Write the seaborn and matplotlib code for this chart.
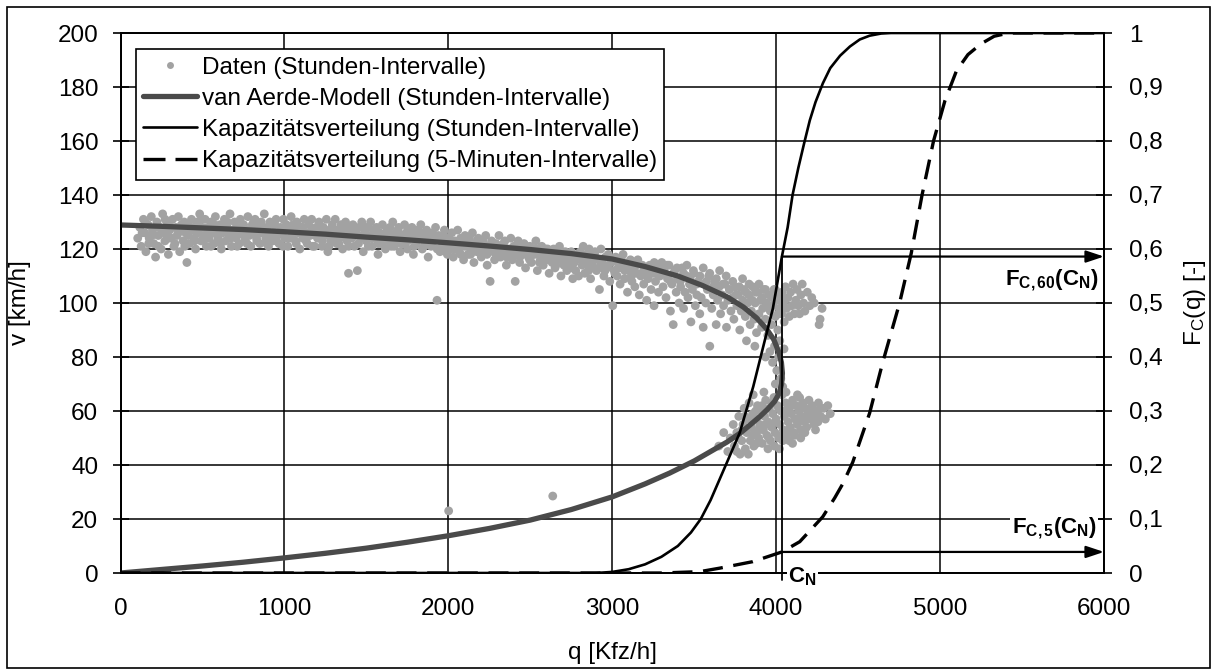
import matplotlib
matplotlib.use("Agg")
import matplotlib.pyplot as plt
from matplotlib.lines import Line2D
from matplotlib.patches import Rectangle
import pandas as pd
import seaborn as sns

# ---------------------------------------------------------------------------
# Hourly measurements: traffic flow q [Kfz/h] and speed v [km/h]
# ---------------------------------------------------------------------------
free_flow = [
    (105, 124), (118, 128), (126, 121), (140, 131), (148, 126), (155, 119), (168, 129), (175, 124),
    (188, 132), (195, 127), (203, 122), (214, 117), (222, 130), (230, 125), (241, 128), (248, 120),
    (257, 133), (263, 126), (271, 123), (285, 130), (292, 118), (300, 127), (311, 124), (318, 131),
    (326, 121), (338, 128), (345, 125), (353, 132), (361, 119), (370, 127), (382, 123), (389, 130),
    (397, 126), (405, 115), (412, 129), (420, 122), (433, 131), (440, 127), (449, 124), (458, 120),
    (466, 130), (474, 126), (483, 133), (491, 123), (499, 128),
    (508, 125), (516, 131), (524, 121), (533, 128), (541, 124), (552, 130), (560, 126), (571, 122),
    (579, 132), (588, 127), (596, 124), (607, 129), (615, 120), (623, 126), (634, 131), (642, 123),
    (651, 128), (660, 125), (668, 133), (677, 121), (688, 127), (696, 130), (705, 124), (713, 128),
    (724, 122), (731, 131), (740, 126), (751, 129), (759, 123), (768, 127), (777, 132), (786, 125),
    (795, 121), (804, 129), (812, 126), (821, 131), (830, 124), (842, 128), (850, 122), (859, 130),
    (868, 126), (877, 133), (886, 124), (894, 128), (903, 121), (912, 130), (921, 126), (930, 123),
    (941, 129), (949, 131), (958, 125), (967, 122), (976, 128), (985, 126), (994, 131), (1003, 124),
    (1012, 129), (1021, 121), (1030, 127), (1041, 132), (1049, 125), (1058, 128), (1067, 123),
    (1076, 130), (1085, 126), (1094, 120), (1103, 128), (1112, 124), (1121, 131), (1130, 126),
    (1139, 122), (1148, 129), (1157, 125), (1166, 131), (1175, 127), (1184, 121), (1193, 128),
    (1202, 124), (1211, 130), (1220, 126), (1229, 121), (1238, 128), (1247, 125), (1256, 131),
    (1265, 119), (1274, 127), (1283, 123), (1292, 129), (1301, 125), (1310, 131), (1319, 122),
    (1328, 127), (1337, 124), (1346, 129), (1355, 120), (1364, 126), (1373, 130), (1382, 123),
    (1391, 111), (1400, 127), (1409, 125), (1418, 129), (1427, 121), (1436, 126), (1445, 112),
    (1454, 128), (1463, 124), (1472, 130), (1481, 119), (1490, 126), (1499, 123), (1508, 128),
    (1517, 125), (1526, 130), (1535, 121), (1544, 127), (1553, 124), (1562, 128), (1571, 118),
    (1580, 126), (1589, 122), (1598, 129), (1607, 125), (1616, 120), (1625, 127), (1634, 123),
    (1643, 128), (1652, 125), (1661, 130), (1670, 121), (1679, 126), (1688, 123), (1697, 128),
    (1706, 119), (1715, 125), (1724, 122), (1733, 129), (1742, 126), (1751, 120), (1760, 127),
    (1769, 124), (1778, 128), (1787, 118), (1796, 125), (1805, 122), (1814, 127), (1823, 124),
    (1832, 129), (1841, 120), (1850, 126), (1859, 123), (1868, 127), (1877, 117), (1886, 124),
    (1895, 121), (1904, 126), (1913, 123), (1922, 128), (1931, 101), (1940, 125), (1949, 119),
    (1958, 124), (1967, 121), (1976, 127), (1985, 122), (1994, 118),
    (2003, 124), (2012, 120), (2021, 126), (2030, 117), (2039, 123), (2048, 121), (2057, 127),
    (2066, 119), (2075, 124), (2084, 122), (2093, 116), (2102, 125), (2111, 121), (2120, 118),
    (2129, 124), (2138, 120), (2147, 126), (2156, 115), (2165, 122), (2174, 119), (2183, 124),
    (2192, 121), (2201, 117), (2210, 123), (2219, 120), (2228, 125), (2237, 114), (2246, 121),
    (2255, 108), (2264, 123), (2273, 119), (2282, 116), (2291, 122), (2300, 120), (2309, 125),
    (2318, 117), (2327, 121), (2336, 119), (2345, 123), (2354, 114), (2363, 120), (2372, 118),
    (2381, 124), (2390, 116), (2399, 121), (2408, 108), (2417, 119), (2426, 123), (2435, 115),
    (2444, 120), (2453, 118), (2462, 122), (2471, 113), (2480, 119), (2489, 117), (2498, 121),
    (2507, 115), (2516, 120), (2525, 118), (2534, 123), (2543, 112), (2552, 119), (2561, 116),
    (2570, 121), (2579, 114), (2588, 118), (2597, 116), (2606, 120), (2615, 111), (2624, 117),
    (2633, 115), (2642, 120), (2651, 113), (2660, 118), (2669, 116), (2678, 121), (2687, 110),
    (2696, 117), (2705, 114), (2714, 119), (2723, 112), (2732, 116), (2741, 114), (2750, 119),
    (2759, 109), (2768, 115), (2777, 112), (2786, 118), (2795, 110),
    (2805, 119), (2814, 116), (2823, 121), (2832, 111), (2841, 118), (2850, 114), (2859, 120),
    (2868, 109), (2877, 117), (2886, 113), (2895, 119), (2904, 112), (2913, 116), (2922, 105),
    (2931, 120), (2940, 114), (2949, 110), (2958, 117), (2967, 113), (2976, 118), (2985, 108),
    (2994, 115), (3003, 99), (3012, 112), (3021, 117), (3030, 110), (3039, 115), (3048, 107),
    (3057, 113), (3066, 118), (3075, 109), (3084, 114), (3093, 104), (3102, 112), (3111, 116),
    (3120, 108), (3129, 113), (3138, 106), (3147, 111), (3156, 116), (3165, 103), (3174, 110),
    (3183, 114), (3192, 107), (3201, 112), (3210, 101), (3219, 109), (3228, 114), (3237, 105),
    (3246, 111), (3255, 99), (3264, 108), (3273, 113), (3282, 104), (3291, 110),
    (3302, 115), (3310, 106), (3319, 111), (3328, 102), (3337, 109), (3346, 114), (3355, 97),
    (3364, 107), (3372, 92), (3381, 112), (3390, 104), (3399, 109), (3408, 100), (3417, 106),
    (3426, 113), (3435, 98), (3444, 104), (3453, 110), (3462, 102), (3471, 107), (3480, 93),
    (3489, 105), (3498, 111), (3507, 99), (3516, 103), (3525, 108), (3534, 96), (3543, 102),
    (3555, 91), (3562, 107), (3571, 100), (3580, 105), (3589, 110), (3595, 84), (3607, 98),
    (3616, 103), (3625, 108), (3634, 92), (3643, 101), (3652, 106), (3661, 96), (3670, 103),
    (3679, 99), (3688, 107), (3697, 91), (3706, 101), (3715, 105), (3724, 97), (3733, 102),
    (3742, 94), (3751, 106), (3760, 99), (3769, 103), (3778, 90), (3787, 97), (3796, 101),
    (3805, 105), (3812, 95), (3819, 86), (3826, 100), (3834, 103), (3841, 92), (3849, 97),
    (3857, 106), (3865, 94), (3872, 100), (3880, 89), (3888, 104), (3895, 96), (3903, 101),
    (3911, 91), (3918, 98), (3926, 105), (3934, 94), (3941, 100), (3949, 88), (3957, 103),
    (3964, 97), (3972, 92), (3980, 99), (3987, 105), (3995, 95), (4003, 101), (4010, 90),
    (4018, 98), (4026, 103), (4033, 96), (4041, 100), (4049, 93), (4057, 106), (4064, 98),
    (4072, 102), (4080, 95), (4088, 104), (4095, 99), (4103, 107), (4111, 96), (4119, 101),
    (4127, 105), (4135, 99), (4143, 96), (4151, 103), (4159, 107), (4167, 100), (4175, 97),
    (4190, 104), (4205, 99), (4217, 102), (4232, 100), (4262, 92), (4268, 94), (4280, 98),
    (3962, 82), (3978, 78), (3990, 84), (4004, 75), (4015, 80), (4028, 72), (4040, 69),
    (4048, 83), (3995, 70), (4022, 86), (3870, 84), (3935, 80),
]

# further hours inside the free-flow band
free_flow_more = [
    (132, 126), (152, 130), (172, 122), (192, 125), (212, 128), (232, 121), (252, 127), (272, 131),
    (292, 124), (312, 128), (332, 122), (352, 126), (372, 129), (392, 121), (412, 125), (432, 128),
    (452, 123), (472, 127), (492, 131), (512, 124), (532, 127), (552, 121), (572, 129), (592, 125),
    (612, 122), (632, 127), (652, 130), (672, 124), (692, 126), (712, 121), (732, 128), (752, 125),
    (772, 122), (792, 127), (812, 130), (832, 123), (852, 126), (872, 128), (892, 122), (912, 125),
    (932, 129), (952, 123), (972, 126), (992, 121), (1012, 127), (1032, 124), (1052, 129),
    (1072, 122), (1092, 126), (1112, 128), (1132, 123), (1152, 126), (1172, 121), (1192, 125),
    (1212, 128), (1232, 123), (1252, 126), (1272, 121), (1292, 124), (1312, 127), (1332, 122),
    (1352, 125), (1372, 128), (1392, 121), (1412, 124), (1432, 127), (1452, 122), (1472, 125),
    (1492, 128), (1512, 121), (1532, 124), (1552, 127), (1572, 122), (1592, 125), (1612, 123),
    (1632, 126), (1652, 121), (1672, 124), (1692, 127), (1712, 122), (1732, 125), (1752, 123),
    (1772, 126), (1792, 121), (1812, 124), (1832, 126), (1852, 121), (1872, 124), (1892, 122),
    (1912, 125), (1932, 120), (1952, 123), (1972, 125), (1992, 120), (2016, 123), (2036, 120),
    (2056, 122), (2076, 118), (2096, 121), (2116, 123), (2136, 118), (2156, 121), (2176, 123),
    (2196, 119), (2216, 122), (2236, 118), (2256, 120), (2276, 122), (2296, 117), (2316, 120),
    (2336, 122), (2356, 117), (2376, 120), (2396, 118), (2416, 121), (2436, 117), (2456, 119),
    (2476, 121), (2496, 116), (2516, 118), (2536, 120), (2556, 115), (2576, 118), (2596, 120),
    (2616, 116), (2636, 118), (2656, 114), (2676, 117), (2696, 119), (2716, 115), (2736, 117),
    (2756, 113), (2776, 116), (2796, 118), (2816, 114), (2836, 116), (2856, 112), (2876, 115),
    (2896, 117), (2916, 113), (2936, 115), (2956, 112), (2976, 114), (2996, 116), (3016, 111),
    (3036, 113), (3056, 116), (3076, 112), (3096, 114), (3116, 110), (3136, 113), (3156, 115),
    (3176, 111), (3196, 113), (3216, 110), (3236, 112), (3256, 115), (3276, 111), (3296, 113),
    (3315, 112), (3335, 114), (3355, 108), (3375, 111), (3395, 113), (3415, 108), (3435, 111),
    (3455, 114), (3475, 109), (3495, 112), (3515, 107), (3535, 110), (3555, 113), (3575, 108),
    (3595, 111), (3615, 106), (3635, 109), (3655, 112), (3675, 107), (3695, 110), (3715, 105),
    (3735, 108), (3755, 103), (3775, 106), (3795, 109), (3815, 104), (3835, 107), (3855, 101),
    (3875, 104), (3895, 107), (3915, 102), (3935, 105), (3955, 99), (3975, 102), (3995, 105),
    (4015, 96), (4035, 104), (4055, 101),
]

congested = [
    (3650, 47), (3680, 52), (3705, 45), (3720, 50), (3738, 55), (3745, 47), (3760, 52), (3772, 58),
    (3780, 44), (3790, 49), (3798, 55), (3805, 61), (3812, 46), (3820, 52), (3828, 57), (3835, 63),
    (3842, 49), (3850, 54), (3857, 59), (3864, 47), (3872, 52), (3879, 57), (3886, 62), (3893, 50),
    (3900, 55), (3908, 60), (3915, 48), (3922, 53), (3929, 58), (3936, 64), (3943, 51), (3950, 56),
    (3958, 61), (3965, 49), (3972, 54), (3979, 59), (3986, 65), (3993, 52), (4000, 57), (4008, 62),
    (4015, 50), (4022, 55), (4029, 60), (4036, 66), (4043, 53), (4050, 58), (4058, 63), (4065, 51),
    (4072, 56), (4079, 61), (4086, 54), (4093, 59), (4100, 64), (4108, 52), (4115, 57), (4122, 62),
    (4129, 55), (4136, 60), (4143, 65), (4150, 53), (4158, 58), (4165, 63), (4172, 56), (4179, 61),
    (4186, 54), (4193, 59), (4200, 64), (4210, 57), (4220, 62), (4232, 55), (4245, 60), (4258, 63),
    (4272, 58), (4290, 61), (4315, 62), (4330, 59), (3860, 66), (3925, 67), (4060, 67), (4130, 66),
    (3990, 47), (4040, 49), (4100, 48), (3760, 45), (3830, 44),
    (3855, 51), (3875, 60), (3895, 53), (3915, 62), (3935, 55), (3955, 50), (3975, 63), (3995, 56),
    (4015, 61), (4035, 51), (4055, 60), (4075, 53), (4095, 62), (4115, 51), (4135, 57), (4155, 61),
    (4175, 52), (4195, 57), (4215, 60), (4235, 58), (4255, 56), (3810, 58), (3790, 53), (3770, 50),
    (3880, 48), (3950, 46), (4020, 46), (4080, 49), (4150, 50), (4240, 53), (4270, 61), (4300, 57),
]

outliers = [(2002, 23), (2637, 28.5)]

# van Aerde model, traced from free flow over the capacity point into congestion
model_q = [0, 250, 500, 750, 1000, 1250, 1500, 1750, 2000, 2250, 2500, 2750, 3000, 3200, 3400,
           3550, 3700, 3800, 3880, 3940, 3985, 4015, 4032,
           4038, 4033, 4018, 3990, 3945, 3900, 3840, 3778, 3700, 3600, 3500, 3350, 3200, 3000,
           2750, 2500, 2250, 2000, 1750, 1500, 1250, 1000, 750, 500, 250, 0]
model_v = [128.9, 128.4, 127.8, 127.2, 126.4, 125.5, 124.4, 123.4, 122.3, 121.1, 119.8, 118.3,
           116.3, 113.5, 110.0, 106.5, 102.3, 98.5, 94.5, 90.5, 86.5, 82.0, 78.0,
           74.0, 70.0, 66.5, 63.5, 60.5, 57.9, 54.8, 51.7, 48.5, 45.0, 41.5, 37.0, 33.0, 28.2,
           23.5, 19.6, 16.5, 13.8, 11.4, 9.2, 7.3, 5.6, 4.0, 2.6, 1.3, 0.0]

# Capacity distribution from hourly intervals
cdf60_q = [0, 2900, 3000, 3100, 3200, 3300, 3400, 3480, 3540, 3600, 3650, 3700, 3778, 3860,
           3930, 3980, 4035, 4070, 4100, 4135, 4170, 4205, 4240, 4285, 4330, 4390, 4450, 4510,
           4570, 4640, 4700, 6000]
cdf60_F = [0, 0, 0.002, 0.007, 0.016, 0.03, 0.05, 0.075, 0.10, 0.135, 0.17, 0.205, 0.26, 0.345,
           0.43, 0.49, 0.586, 0.64, 0.70, 0.75, 0.795, 0.838, 0.872, 0.907, 0.935, 0.958, 0.975,
           0.988, 0.995, 0.999, 1.0, 1.0]

# Capacity distribution from 5-minute intervals
cdf5_q = [0, 3300, 3534, 3656, 3857, 4035, 4144, 4284, 4357, 4406, 4467, 4570, 4650, 4753,
          4824, 4890, 4960, 5030, 5100, 5170, 5250, 5330, 5420, 6000]
cdf5_F = [0, 0, 0.0025, 0.009, 0.021, 0.039, 0.058, 0.104, 0.139, 0.165, 0.205, 0.296, 0.39,
          0.50, 0.592, 0.70, 0.80, 0.875, 0.93, 0.96, 0.98, 0.994, 1.0, 1.0]

# Capacity C_N and the distribution values read at C_N
capacity_q = 4035
F60_at_capacity = 0.586
F5_at_capacity = 0.039

q_ticks = [0, 1000, 2000, 3000, 4000, 5000, 6000]
v_ticks = [0, 20, 40, 60, 80, 100, 120, 140, 160, 180, 200]
F_ticks = [0, 0.1, 0.2, 0.3, 0.4, 0.5, 0.6, 0.7, 0.8, 0.9, 1.0]
F_tick_labels = ["0", "0,1", "0,2", "0,3", "0,4", "0,5", "0,6", "0,7", "0,8", "0,9", "1"]

legend_labels = [
    "Daten (Stunden-Intervalle)",
    "van Aerde-Modell (Stunden-Intervalle)",
    "Kapazitätsverteilung (Stunden-Intervalle)",
    "Kapazitätsverteilung (5-Minuten-Intervalle)",
]

# ---------------------------------------------------------------------------
sns.set_theme(style="white")
plt.rcParams["font.family"] = ["Liberation Sans", "DejaVu Sans"]
plt.rcParams["mathtext.fontset"] = "custom"
plt.rcParams["mathtext.rm"] = "Liberation Sans"
plt.rcParams["mathtext.it"] = "Liberation Sans:italic"
plt.rcParams["mathtext.bf"] = "Liberation Sans:bold"

FS = 17.5
LEG_FS = 17.5
NOTE_FS = 16
DOT = "#a2a2a2"
MODEL = "#4a4a4a"

points = pd.DataFrame(free_flow + free_flow_more + congested + outliers, columns=["q", "v"])
model = pd.DataFrame({"q": model_q, "v": model_v})
cdf60 = pd.DataFrame({"q": cdf60_q, "F": cdf60_F})
cdf5 = pd.DataFrame({"q": cdf5_q, "F": cdf5_F})

fig = plt.figure(figsize=(12.12, 6.70), dpi=100)
ax = fig.add_axes([120.5 / 1212, 1 - 573 / 670, (1104 - 120.5) / 1212, 540 / 670])
ax2 = ax.twinx()

sns.scatterplot(data=points, x="q", y="v", ax=ax, color=DOT, s=40, linewidth=0,
                edgecolor="none", legend=False, zorder=3)
sns.lineplot(data=model, x="q", y="v", ax=ax, sort=False, estimator=None, color=MODEL,
             lw=3.8, zorder=4, legend=False)

sns.lineplot(data=cdf60, x="q", y="F", ax=ax2, sort=False, estimator=None, color="black",
             lw=1.9, legend=False)
sns.lineplot(data=cdf5, x="q", y="F", ax=ax2, sort=False, estimator=None, color="black",
             lw=2.4, legend=False)
ax2.lines[-1].set_dashes([6.0, 3.2])

ax.set_xlim(0, 6000)
ax.set_ylim(0, 200)
ax2.set_ylim(0, 1)
ax.set_xticks(q_ticks)
ax.set_xticklabels([str(t) for t in q_ticks])
ax.set_yticks(v_ticks)
ax2.set_yticks(F_ticks)
ax2.set_yticklabels(F_tick_labels)

ax.grid(True, color="black", lw=1.1)
ax.set_axisbelow(True)
for a in (ax, ax2):
    for sp in a.spines.values():
        sp.set_color("black")
        sp.set_linewidth(1.3)
ax.tick_params(axis="both", direction="inout", length=12, width=1.2, color="black",
               labelsize=FS, pad=10, labelcolor="black")
ax2.tick_params(axis="y", direction="inout", length=12, width=1.2, color="black",
                labelsize=FS, pad=12, labelcolor="black")
ax.tick_params(axis="x", pad=12)

ax.set_xlabel("q [Kfz/h]", fontsize=FS, color="black", labelpad=16)
ax.set_ylabel("v [km/h]", fontsize=FS, color="black", labelpad=19)
ax2.set_ylabel(r"F$_\mathrm{C}$(q) [-]", fontsize=FS, color="black", labelpad=14)

# Capacity marker and the distribution values at C_N
ax2.plot([capacity_q, capacity_q], [-0.013, F60_at_capacity], color="black", lw=1.3,
         clip_on=False, zorder=5)
for F_val in (F60_at_capacity, F5_at_capacity):
    ax2.annotate("", xy=(6000, F_val), xytext=(capacity_q, F_val),
                 arrowprops=dict(arrowstyle="-|>,head_length=0.9,head_width=0.3",
                                 color="black", lw=1.6, shrinkA=0, shrinkB=0))
ax2.text(5965, 0.543, r"F$_\mathbf{C,60}$(C$_\mathbf{N}$)", ha="right", va="center",
         fontsize=NOTE_FS, fontweight="bold", color="black")
ax2.text(5955, 0.083, r"F$_\mathbf{C,5}$(C$_\mathbf{N}$)", ha="right", va="center",
         fontsize=NOTE_FS, fontweight="bold", color="black",
         bbox=dict(facecolor="white", edgecolor="none", pad=1))
ax2.text(capacity_q + 38, -0.006, r"C$_\mathbf{N}$", ha="left", va="center",
         fontsize=NOTE_FS, fontweight="bold", color="black",
         bbox=dict(facecolor="white", edgecolor="none", pad=1), clip_on=False)

handles = [
    Line2D([], [], ls="none", marker="o", ms=5, color=DOT, markeredgewidth=0),
    Line2D([], [], color=MODEL, lw=3.8),
    Line2D([], [], color="black", lw=1.9),
    Line2D([], [], color="black", lw=2.4, dashes=[6.6, 3.0]),
]
leg = ax2.legend(handles, legend_labels, loc="upper left", bbox_to_anchor=(0.0158, 0.970),
                 borderaxespad=0, fontsize=LEG_FS, frameon=True, fancybox=False, framealpha=1,
                 edgecolor="black", handlelength=2.2, handletextpad=0.2, labelspacing=0.38,
                 borderpad=0.3)
leg.get_frame().set_linewidth(1.2)
for t in leg.get_texts():
    t.set_color("black")

fig.add_artist(Rectangle((7 / 1212, 2 / 670), 1203 / 1212, 661 / 670, transform=fig.transFigure,
                         fill=False, edgecolor="black", lw=1.2))

fig.savefig("out.png", dpi=100, facecolor="white")
